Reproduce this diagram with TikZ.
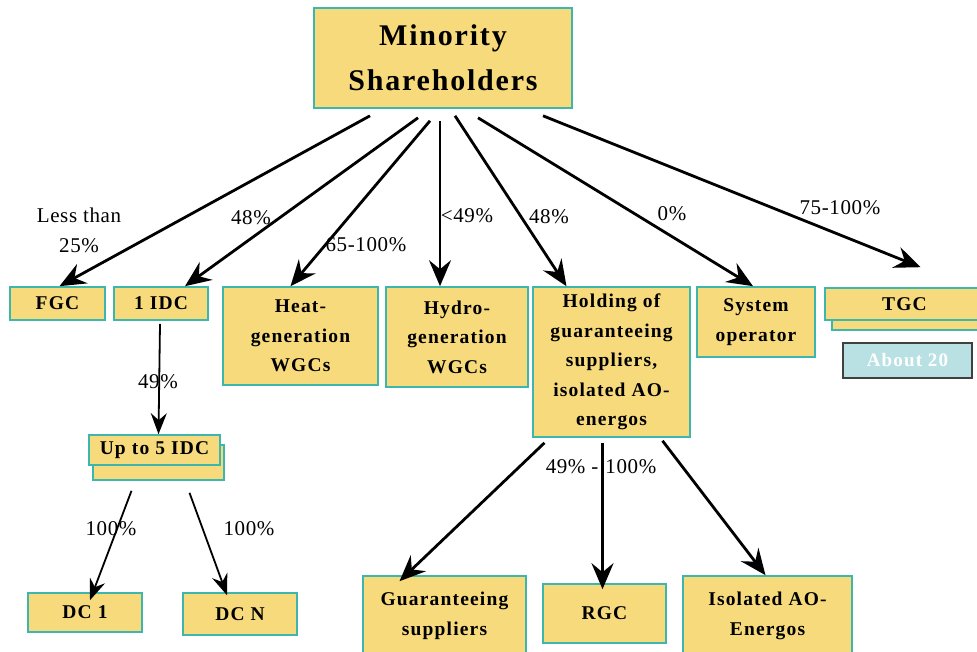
\documentclass[tikz,border=0pt]{standalone}
\usepackage{fontspec}
\setmainfont{Liberation Serif}
\newfontfamily\spacedserif[LetterSpace=6]{Liberation Serif}
\newfontfamily\looseserif[LetterSpace=3]{Liberation Serif}
\usetikzlibrary{arrows.meta}
\definecolor{boxfill}{HTML}{F6DA7B}
\definecolor{boxline}{HTML}{3DB6AE}
\definecolor{notefill}{HTML}{B9E1E3}
\tikzset{
  orgbox/.style={draw=boxline, fill=boxfill, line width=1.6pt, inner sep=0pt,
    align=center, font=\spacedserif\fontsize{19.5}{29.5}\selectfont\bfseries},
  notebox/.style={draw=black!75, fill=notefill, line width=1.6pt, inner sep=0pt,
    font=\spacedserif\fontsize{19}{29}\selectfont\bfseries, text=white},
  pct/.style={font=\looseserif\fontsize{21}{30}\selectfont, align=center, inner sep=0pt},
  bigarrow/.style={line width=2.8pt, -{Stealth[length=26pt,width=22pt,inset=9pt]}},
  thinarrow/.style={line width=1.8pt, -{Stealth[length=21pt,width=16pt,inset=7pt]}},
}
\newcommand{\boxat}[6]{% name, x1, y1, x2, y2, text
  \node[orgbox, minimum width=#4-#2, minimum height=#5-#3] (#1) at ({(#2+#4)/2},{(#3+#5)/2}) {#6};}
\begin{document}
\begin{tikzpicture}[x=1pt, y=-1pt]
\clip (0,0) rectangle (977,652);
\fill[white] (0,0) rectangle (977,652);

% top owner
\node[orgbox, minimum width=258, minimum height=100,
  font=\spacedserif\fontsize{30}{45}\selectfont\bfseries] (ms) at (443,58) {Minority\\Shareholders};

% first tier
\boxat{fgc}{10}{287}{105}{320}{FGC}
\boxat{idc}{114}{287}{208}{320}{1 IDC}
\boxat{heat}{223}{287}{378}{385}{Heat-\\generation\\WGCs}
\boxat{hydro}{386}{287}{528}{387}{Hydro-\\generation\\WGCs}
\boxat{hold}{533}{287}{690}{437}{Holding of\\guaranteeing\\suppliers,\\isolated AO-\\energos}
\boxat{sysop}{697}{287}{815}{357}{System\\operator}
% stacked TGC cards
\boxat{tgcback}{832}{296}{990}{330}{}
\boxat{tgc}{825}{288}{984}{320}{TGC}
\node[notebox, minimum width=129, minimum height=35] (about) at (907.5,360.5) {About 20};

% interregional distribution companies
\boxat{upback}{93}{445}{224}{480}{}
\boxat{upfive}{89}{435}{220}{465}{Up to 5 IDC}
\boxat{dcone}{28}{593}{142}{632}{DC 1}
\boxat{dcn}{183}{593}{297}{635}{DC N}

% holding subsidiaries
\boxat{gs}{363}{576}{526}{656}{Guaranteeing\\suppliers}
\boxat{rgc}{543}{584}{666}{643}{RGC}
\boxat{iso}{683}{576}{852}{656}{Isolated AO-\\Energos}

% shareholdings of the minority holders
\draw[bigarrow] ([xshift=-73pt,yshift=-7pt]ms.south) -- ([xshift=2pt]fgc.north);
\draw[bigarrow] ([xshift=-25pt,yshift=-9pt]ms.south) -- ([xshift=24pt]idc.north);
\draw[bigarrow] ([xshift=-13pt,yshift=-12pt]ms.south) -- ([xshift=-10pt]heat.north);
\draw[bigarrow] ([xshift=-3pt,yshift=-12pt]ms.south) -- ([xshift=-17pt]hydro.north);
\draw[bigarrow] ([xshift=12pt,yshift=-7pt]ms.south) -- ([xshift=-45pt]hold.north);
\draw[bigarrow] ([xshift=35pt,yshift=-9pt]ms.south) -- ([xshift=-3pt]sysop.north);
\draw[bigarrow] ([xshift=100pt,yshift=-7pt]ms.south) -- ([xshift=16pt,yshift=20pt]tgc.north);

\node[pct] (l1) at (79,230) {Less than\\25\%};
\node[pct] (l2) at (251,218) {48\%};
\node[pct] (l3) at (366,245) {65-100\%};
\node[pct] (l4) at (467,216) {<49\%};
\node[pct] (l5) at (549,217) {48\%};
\node[pct] (l6) at (672,214) {0\%};
\node[pct] (l7) at (840,208) {75-100\%};

% distribution branch
\draw[thinarrow] ([xshift=-1pt,yshift=-3pt]idc.south) -- ([xshift=4pt]upfive.north);
\node[pct] (l8) at (158,382) {49\%};
\draw[thinarrow] ([xshift=-27pt,yshift=-10pt]upback.south) -- ([xshift=5pt,yshift=-8pt]dcone.north);
\draw[thinarrow] ([xshift=31pt,yshift=-12pt]upback.south) -- ([xshift=-13pt,yshift=-3pt]dcn.north);
\node[pct] (l9) at (111,529) {100\%};
\node[pct] (l10) at (249,529) {100\%};

% holding branch
\node[pct] (l11) at (601,467) {49\% -\hspace{7pt}100\%};
\draw[bigarrow] ([xshift=-67pt,yshift=-5pt]hold.south) -- ([xshift=-45pt,yshift=-6pt]gs.north);
\draw[bigarrow] ([xshift=-9pt,yshift=-5pt]hold.south) -- ([xshift=-2pt,yshift=-6pt]rgc.north);
\draw[bigarrow] ([xshift=51pt,yshift=-3pt]hold.south) -- ([xshift=-2pt]iso.north);
\end{tikzpicture}
\end{document}
